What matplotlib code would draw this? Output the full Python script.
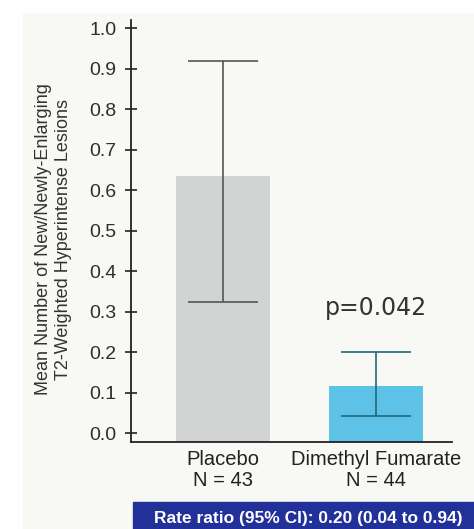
import numpy as np
import matplotlib
matplotlib.use("Agg")
import matplotlib.pyplot as plt
from matplotlib.patches import Rectangle

# ── Data ──────────────────────────────────
groups     = ["Placebo\nN = 43", "Dimethyl Fumarate\nN = 44"]
means      = [0.634, 0.116]
ci_low     = [0.324, 0.043]
ci_high    = [0.918, 0.200]
yticks     = [0.0, 0.1, 0.2, 0.3, 0.4, 0.5, 0.6, 0.7, 0.8, 0.9, 1.0]
p_text     = "p=0.042"
p_value_y  = 0.31
footer     = "Rate ratio (95% CI): 0.20 (0.04 to 0.94)"

bar_colors = ["#d2d4d4", "#5ec2e8"]
err_colors = ["#555555", "#1d6a7c"]

plt.rcParams["font.family"] = ["Liberation Sans", "DejaVu Sans"]

fig = plt.figure(figsize=(4.74, 5.29), dpi=100)
fig.patch.set_facecolor("white")

# light off-white panel behind the chart
fig.patches.append(Rectangle((23 / 474, 0.0), 1.0, 1 - 13 / 529,
                             transform=fig.transFigure, color="#f8f8f5", zorder=-5))

ax = fig.add_axes([131 / 474, 1 - 441.7 / 529, 321 / 474, 421.7 / 529])
ax.set_facecolor("none")
ax.set_zorder(2)

ymin, ymax = -0.021, 1.02
x = np.arange(len(groups))
ax.bar(x, np.array(means) - ymin, bottom=ymin, width=0.61,
       color=bar_colors, zorder=1)

for i in range(len(groups)):
    ax.errorbar(x[i], means[i],
                yerr=[[means[i] - ci_low[i]], [ci_high[i] - means[i]]],
                fmt="none", ecolor=err_colors[i], elinewidth=1.2,
                capsize=25, capthick=1.2, zorder=2)

ax.set_xlim(-0.601, 1.497)
ax.set_ylim(ymin, ymax)
ax.set_yticks(yticks)
ax.set_yticklabels([f"{t:.1f}" for t in yticks], fontsize=14, color="#2e2e2e")
ax.tick_params(axis="y", direction="inout", length=9, width=1.2, pad=6, colors="#222222")
ax.tick_params(axis="y", labelcolor="#2e2e2e")
ax.set_xticks(x)
ax.set_xticklabels(groups, fontsize=14.5, color="#222222", linespacing=1.15)
ax.tick_params(axis="x", length=0, pad=6)

for side in ["top", "right"]:
    ax.spines[side].set_visible(False)
for side in ["left", "bottom"]:
    ax.spines[side].set_linewidth(1.3)
    ax.spines[side].set_color("#222222")

ax.set_ylabel("Mean Number of New/Newly-Enlarging\nT2-Weighted Hyperintense Lesions",
              fontsize=13, color="#333333", linespacing=1.2)
ax.yaxis.set_label_coords(-0.185, 0.48)

ax.text(x[1], p_value_y, p_text, ha="center", va="center",
        fontsize=17, color="#333333", family="DejaVu Sans")

# footer banner
fig.patches.append(Rectangle((133 / 474, 0.0), 1.0, 27 / 529,
                             transform=fig.transFigure, color="#22309a", zorder=1))
fig.text(308 / 474, 11 / 529, footer, ha="center", va="center",
         fontsize=12.5, fontweight="bold", color="white", zorder=2)

fig.savefig("out.png", dpi=100)
